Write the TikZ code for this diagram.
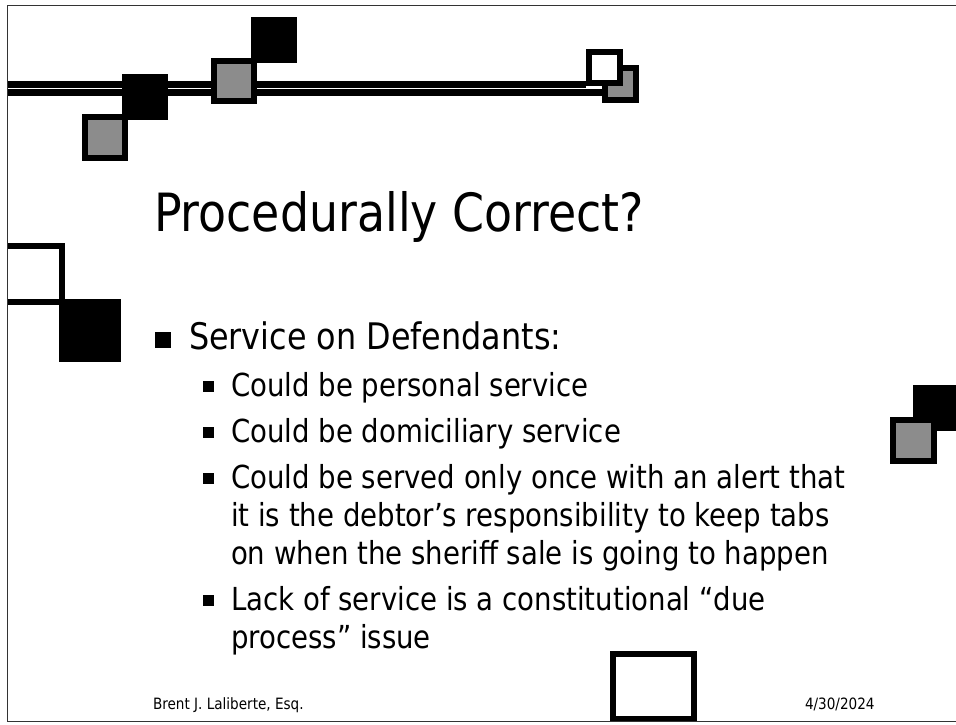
\documentclass[tikz,border=0pt]{standalone}
\usepackage{fontspec}
\setmainfont[FakeStretch=0.87]{DejaVu Sans}
\begin{document}
\begin{tikzpicture}[x=1pt,y=-1pt,
  txt/.style={anchor=base west, inner sep=0pt, outer sep=0pt},
  ttl/.style={txt, font=\fontsize{52.7}{60}\selectfont},
  lvlone/.style={txt, font=\fontsize{36.6}{44}\selectfont},
  lvltwo/.style={txt, font=\fontsize{31.7}{38}\selectfont},
  foot/.style={txt, font=\fontsize{15.6}{18}\selectfont},
  grayfill/.style={fill=black!45},
  slideedge/.style={draw=black!80, line width=1.8pt},
]
\useasboundingbox (0,0) rectangle (956,724);
\fill[white] (0,0) rectangle (956,724);

\begin{scope}
\clip (7,0) rectangle (956,724);
% double rule across the top
\fill (7,80.5) rectangle (586,87.5);
\fill (7,89) rectangle (602,96);
% squares along the rule
\fill (82,114) rectangle (128,161);
\fill[grayfill] (88,120) rectangle (122,155);
\fill (122,74) rectangle (168,120);
\fill (211,58) rectangle (257,104);
\fill[grayfill] (217,64) rectangle (251,98);
\fill (251,17) rectangle (297,63);
% pair at the end of the rule
\fill (602,65) rectangle (639,103);
\fill[grayfill] (608,71) rectangle (633,97);
\fill (586,49) rectangle (623,86);
\fill[white] (592,55) rectangle (617,80);
% pair on the left edge
\fill (0,243) rectangle (65,305);
\fill[white] (0,249) rectangle (59,299);
\fill (59,299) rectangle (121,362);
% pair on the right edge
\fill (913,385) rectangle (960,431);
\fill (890,417) rectangle (937,464);
\fill[grayfill] (896,423) rectangle (931,458);
% frame at the bottom
\fill (610,651) rectangle (697,722);
\fill[white] (616,657) rectangle (691,716);
\end{scope}

% slide edge
\draw[slideedge] (957,5.5) -- (7.5,5.5) -- (7.5,721.5) -- (957,721.5);

% title
\node[ttl] (title) at (154,231) {Procedurally Correct?};

% first level bullet
\fill (155,332) rectangle (171,348);
\node[lvlone] (service) at (189,349) {Service on Defendants:};

% second level bullets
\foreach \yb in {396,442,488,610}
  \fill (203,\yb-15) rectangle (214,\yb-4);
\node[lvltwo] (personal) at (231,396) {Could be personal service};
\node[lvltwo] (domicile) at (231,442) {Could be domiciliary service};
\node[lvltwo] (onceA) at (231,488) {Could be served only once with an alert that};
\node[lvltwo] (onceB) at (231,526) {it is the debtor’s responsibility to keep tabs};
\node[lvltwo] (onceC) at (231,564) {on when the sheriff sale is going to happen};
\node[lvltwo] (lackA) at (231,610) {Lack of service is a constitutional “due};
\node[lvltwo] (lackB) at (231,648) {process” issue};

% footer
\node[foot] (author) at (153,709) {Brent J. Laliberte, Esq.};
\node[foot] (date) at (805,709) {4/30/2024};
\end{tikzpicture}
\end{document}
